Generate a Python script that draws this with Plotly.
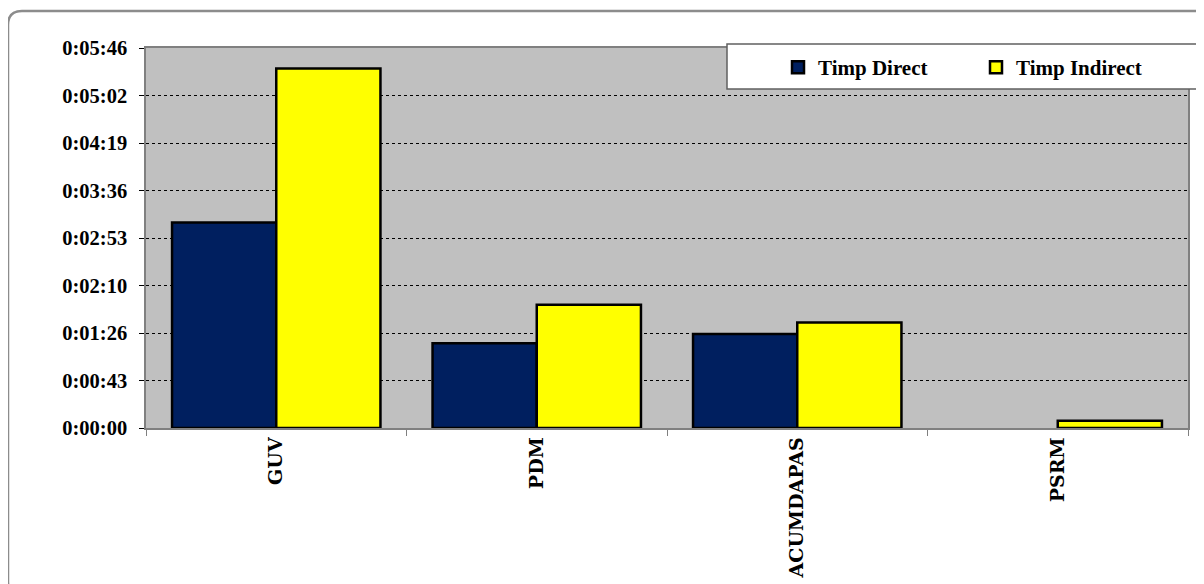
import plotly.graph_objects as go

categories = ["GUV", "PDM", "ACUMDAPAS", "PSRM"]
timp_direct = [187, 77, 85.5, 0]        # seconds
timp_indirect = [327, 112, 96, 6.5]     # seconds
tick_seconds = [0, 43.2, 86.4, 129.6, 172.8, 216, 259.2, 302.4, 345.6]
tick_labels = ["0:00:00", "0:00:43", "0:01:26", "0:02:10", "0:02:53",
               "0:03:36", "0:04:19", "0:05:02", "0:05:46"]

W, H = 1204, 584
# page body has an 8px margin; plot area wanted at page x 146..1188, y 48..428
L, T = 138, 40
pw, ph = 1042, 380
R, B = W - L - pw, H - T - ph

def px(x):
    return (x - 146) / pw

def py(y):
    return (428 - y) / ph

FONT = "Liberation Serif"

def outline_widths(vals):
    return [2.5 if v > 0 else 0 for v in vals]

fig = go.Figure()
fig.add_trace(go.Bar(name="Timp Direct", x=categories, y=timp_direct,
                     marker=dict(color="#001F5F",
                                 line=dict(color="black", width=outline_widths(timp_direct)))))
fig.add_trace(go.Bar(name="Timp Indirect", x=categories, y=timp_indirect,
                     marker=dict(color="#FFFF00",
                                 line=dict(color="black", width=outline_widths(timp_indirect)))))

shapes = []
# outer rounded border (right and bottom sides fall off-canvas)
x0, y0, x1, y1 = 8, 11, 1216, 596
r = 14
path = (f"M {px(x0+r)},{py(y0)} L {px(x1-r)},{py(y0)} Q {px(x1)},{py(y0)} {px(x1)},{py(y0+r)} "
        f"L {px(x1)},{py(y1-r)} Q {px(x1)},{py(y1)} {px(x1-r)},{py(y1)} "
        f"L {px(x0+r)},{py(y1)} Q {px(x0)},{py(y1)} {px(x0)},{py(y1-r)} "
        f"L {px(x0)},{py(y0+r)} Q {px(x0)},{py(y0)} {px(x0+r)},{py(y0)} Z")
shapes.append(dict(type="path", xref="paper", yref="paper", path=path,
                   line=dict(color="#8C8C8C", width=2.5), layer="below"))
# legend box
shapes.append(dict(type="rect", xref="paper", yref="paper",
                   x0=px(727), x1=px(1220), y0=py(89), y1=py(44),
                   fillcolor="white", line=dict(color="#606060", width=1.5), layer="above"))

fig.update_layout(
    width=W, height=H,
    margin=dict(l=L, r=R, t=T, b=B),
    paper_bgcolor="white", plot_bgcolor="#C0C0C0",
    barmode="group", bargap=0.2, bargroupgap=0,
    font=dict(family=FONT, color="black", size=20),
    shapes=shapes,
    legend=dict(orientation="h", x=px(778), y=py(47), xanchor="left", yanchor="top",
                bgcolor="rgba(0,0,0,0)", borderwidth=0,
                font=dict(family=FONT, size=21, color="black", weight="bold"),
                entrywidth=153, entrywidthmode="pixels", itemclick=False),
    showlegend=True,
)
fig.update_yaxes(range=[0, 345.6], tickvals=tick_seconds, ticktext=tick_labels,
                 tickfont=dict(family=FONT, size=20.5, weight="bold"),
                 ticks="outside", ticklen=5, tickcolor="black",
                 showgrid=True, gridcolor="black", griddash="dot", gridwidth=1,
                 showline=True, linecolor="#808080", linewidth=1.5, mirror=True,
                 zeroline=False, ticklabelstandoff=8)
fig.update_xaxes(tickangle=-90, tickfont=dict(family="DejaVu Serif", size=19, weight="bold"),
                 ticks="outside", ticklen=6, tickcolor="#808080", tickson="boundaries",
                 showline=True, linecolor="#808080", linewidth=1.5, mirror=True,
                 showgrid=False)

fig.write_html("out.html")
